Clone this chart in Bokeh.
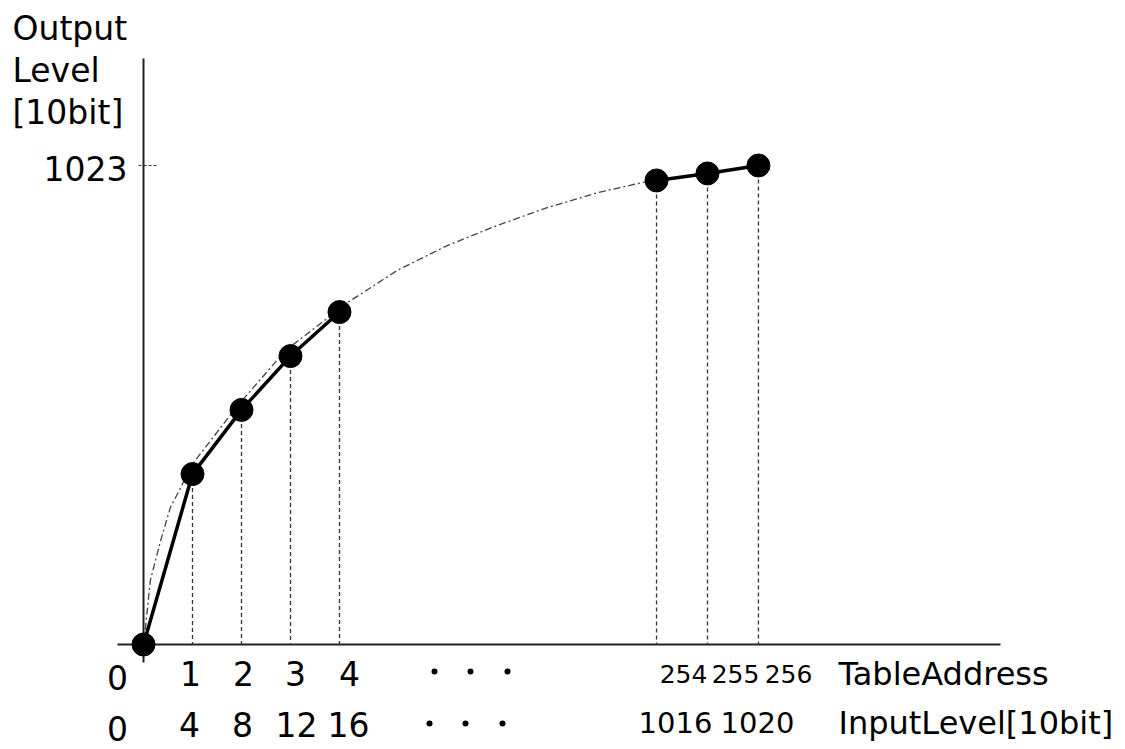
from bokeh.plotting import figure
from bokeh.models import Range1d
from bokeh.embed import file_html
from bokeh.resources import INLINE
from bokeh.core.properties import value

# ---------------- data ----------------
table_address = [0, 1, 2, 3, 4, 254, 255, 256]
output_level = [0, 364, 501, 616, 710, 991, 1006, 1023]
address_labels = ["0", "1", "2", "3", "4", "254", "255", "256"]
input_labels = ["0", "4", "8", "12", "16", "1016", "1020"]
y_tick_value = 1023
y_tick_label = "1023"
y_title = ["Output", "Level", "[10bit]"]
x_titles = ["TableAddress", "InputLevel[10bit]"]

# ideal gamma guide curve (schematic axis position, level)
curve_pos = [0, 0.04, 0.14, 0.35, 0.55, 0.76, 0.96, 1.92, 2.9, 3.98, 4.16,
             5.18, 6.2, 7.22, 8.24, 9.27, 10.2, 10.45]
curve_level = [0, 36, 137, 222, 293, 335, 380, 510, 628, 715, 730,
               799, 852, 895, 933, 965, 987, 991]


# schematic (broken) input axis: 0..4 spaced one unit, then a gap to 254..256
def axis_pos(a):
    return a if a <= 4 else 10.47 + (a - 254) * 1.04


xs = [axis_pos(a) for a in table_address]

# ---------------- layout ----------------
W, H = 1125, 749
PX_UNIT = 49.0
X0 = 143              # canvas px of address 0
Y0 = 644              # canvas px of level 0
LPP = 1023 / 479.0    # level per pixel
TEXT_DY = 12          # baseline correction for svg text


def X(px):  # canvas px -> data x
    return (px - X0) / PX_UNIT


def Y(py):  # canvas px -> data y
    return (Y0 - py) * LPP


def YT(py):  # text baseline position
    return Y(py - TEXT_DY)


p = figure(width=W, height=H, output_backend="svg", toolbar_location=None,
           x_range=Range1d(-X0 / PX_UNIT, (W - X0) / PX_UNIT),
           y_range=Range1d(-(H - Y0) * LPP, Y0 * LPP),
           min_border=0, x_axis_location=None, y_axis_location=None)
p.grid.visible = False
p.outline_line_color = None
p.background_fill_color = "white"
p.border_fill_color = "white"

FONT = value("DejaVu Sans")

# axes
p.segment(x0=[0], y0=[Y(662)], x1=[0], y1=[Y(58)], line_color="#222222", line_width=2)
p.segment(x0=[X(117)], y0=[0], x1=[X(1000)], y1=[0], line_color="#222222", line_width=2)
# 1023 tick
p.segment(x0=[X(138)], y0=[y_tick_value], x1=[X(156)], y1=[y_tick_value],
          line_color="#333333", line_width=1, line_dash="3 2")

# dotted drop lines
p.segment(x0=xs[1:], y0=output_level[1:], x1=xs[1:], y1=[0] * (len(xs) - 1),
          line_color="#333333", line_width=1.3, line_dash="4 3")

# guide curve
p.line(curve_pos, curve_level, line_color="#444444", line_width=1.3, line_dash="7 3 2 3")

# polylines
p.line(xs[:5], output_level[:5], line_color="black", line_width=3.5)
p.line(xs[5:], output_level[5:], line_color="black", line_width=3.5)

# points
p.scatter(xs, output_level, size=23, fill_color="black", line_color="black")

# y titles
p.text(x=[X(12)] * 3, y=[YT(40), YT(82), YT(124)], text=y_title, text_font=FONT,
       text_font_size="33px", text_align="left", text_baseline="alphabetic", text_color="black")
p.text(x=[X(127)], y=[YT(180)], text=[y_tick_label], text_font=FONT,
       text_font_size="33px", text_align="right", text_baseline="alphabetic", text_color="black")

# table address row
p.text(x=[X(117), X(190), X(243), X(295), X(349)], y=[YT(689), YT(685), YT(685), YT(685), YT(685)],
       text=address_labels[:5], text_font=FONT, text_font_size="33px",
       text_align="center", text_baseline="alphabetic", text_color="black")
p.text(x=[X(683), X(735), X(788)], y=[YT(685)] * 3, text=address_labels[5:], text_font=FONT,
       text_font_size="25px", text_align="center", text_baseline="alphabetic", text_color="black")
p.text(x=[X(838)], y=[YT(685)], text=[x_titles[0]], text_font=FONT, text_font_size="32px",
       text_align="left", text_baseline="alphabetic", text_color="black")

# input level row
p.text(x=[X(117), X(189), X(242), X(296), X(348)], y=[YT(740), YT(736), YT(736), YT(736), YT(736)],
       text=input_labels[:5], text_font=FONT, text_font_size="33px",
       text_align="center", text_baseline="alphabetic", text_color="black")
p.text(x=[X(675), X(757)], y=[YT(734)] * 2, text=input_labels[5:], text_font=FONT,
       text_font_size="29px", text_align="center", text_baseline="alphabetic", text_color="black")
p.text(x=[X(838)], y=[YT(734)], text=[x_titles[1]], text_font=FONT, text_font_size="32px",
       text_align="left", text_baseline="alphabetic", text_color="black")

# ellipsis dots
p.scatter(x=[X(434), X(470), X(507), X(429), X(465), X(502)],
          y=[Y(671)] * 3 + [Y(723)] * 3, size=6, fill_color="black", line_color=None)

open("out.html", "w").write(file_html(p, INLINE))
